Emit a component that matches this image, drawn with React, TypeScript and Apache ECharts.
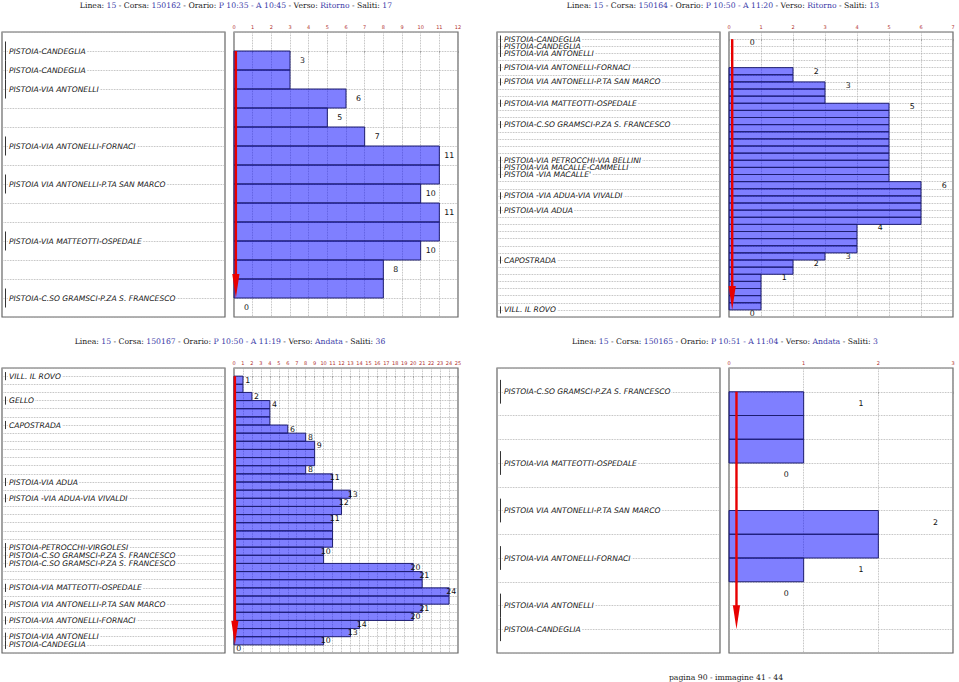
import React, { useEffect, useRef } from 'react';
import * as echarts from 'echarts';

// ---------- DATA ----------
const titleKeys = ['Linea:', 'Corsa:', 'Orario:', 'Verso:', 'Saliti:'];

const title1 = ['15', '150162', 'P 10:35 - A 10:45', 'Ritorno', '17'];
const stops1 = [
  'PISTOIA-CANDEGLIA', 'PISTOIA-CANDEGLIA', 'PISTOIA-VIA ANTONELLI', '', '',
  'PISTOIA-VIA ANTONELLI-FORNACI', '', 'PISTOIA VIA ANTONELLI-P.TA SAN MARCO', '', '',
  'PISTOIA-VIA MATTEOTTI-OSPEDALE', '', '', 'PISTOIA-C.SO GRAMSCI-P.ZA S. FRANCESCO',
];
const load1 = [3, 3, 6, 5, 7, 11, 11, 10, 11, 11, 10, 8, 8];
const axisMax1 = 12;

const title2 = ['15', '150164', 'P 10:50 - A 11:20', 'Ritorno', '13'];
const stops2 = [
  'PISTOIA-CANDEGLIA', 'PISTOIA-CANDEGLIA', 'PISTOIA-VIA ANTONELLI', '', 'PISTOIA-VIA ANTONELLI-FORNACI',
  '', 'PISTOIA VIA ANTONELLI-P.TA SAN MARCO', '', '', 'PISTOIA-VIA MATTEOTTI-OSPEDALE',
  '', '', 'PISTOIA-C.SO GRAMSCI-P.ZA S. FRANCESCO', '', '',
  '', '', 'PISTOIA-VIA PETROCCHI-VIA BELLINI', 'PISTOIA-VIA MACALLE-CAMMELLI', "PISTOIA -VIA MACALLE'",
  '', '', 'PISTOIA -VIA ADUA-VIA VIVALDI', '', 'PISTOIA-VIA ADUA',
  '', '', '', '', '',
  '', 'CAPOSTRADA', '', '', '',
  '', '', '', 'VILL. IL ROVO',
];
const load2 = [
  0, 0, 0, 0, 2, 2, 3, 3, 3, 5,
  5, 5, 5, 5, 5, 5, 5, 5, 5, 5,
  6, 6, 6, 6, 6, 6, 4, 4, 4, 4,
  3, 2, 2, 1, 1, 1, 1, 1,
];
const axisMax2 = 7;

const title3 = ['15', '150167', 'P 10:50 - A 11:19', 'Andata', '36'];
const stops3 = [
  'VILL. IL ROVO', '', '', 'GELLO', '', '', 'CAPOSTRADA', '', '', '',
  '', '', '', 'PISTOIA-VIA ADUA', '', 'PISTOIA -VIA ADUA-VIA VIVALDI', '', '', '', '',
  '', 'PISTOIA-PETROCCHI-VIRGOLESI', 'PISTOIA-C.SO GRAMSCI-P.ZA S. FRANCESCO', 'PISTOIA-C.SO GRAMSCI-P.ZA S. FRANCESCO', '', '',
  'PISTOIA-VIA MATTEOTTI-OSPEDALE', '', 'PISTOIA VIA ANTONELLI-P.TA SAN MARCO', '', 'PISTOIA-VIA ANTONELLI-FORNACI',
  '', 'PISTOIA-VIA ANTONELLI', 'PISTOIA-CANDEGLIA',
];
const load3 = [
  1, 1, 2, 4, 4, 4, 6, 8, 9, 9,
  9, 8, 11, 11, 13, 12, 12, 11, 11, 11,
  11, 10, 10, 20, 21, 21, 24, 24, 21, 20,
  14, 13, 10,
];
const axisMax3 = 25;

const title4 = ['15', '150165', 'P 10:51 - A 11:04', 'Andata', '3'];
const stops4 = [
  'PISTOIA-C.SO GRAMSCI-P.ZA S. FRANCESCO', '', '', 'PISTOIA-VIA MATTEOTTI-OSPEDALE', '',
  'PISTOIA VIA ANTONELLI-P.TA SAN MARCO', '', 'PISTOIA-VIA ANTONELLI-FORNACI', '',
  'PISTOIA-VIA ANTONELLI', 'PISTOIA-CANDEGLIA',
];
const load4 = [1, 1, 1, 0, 0, 2, 2, 1, 0, 0];
const axisMax4 = 3;

const footerText = 'pagina 90 - immagine 41 - 44';

// ---------- LAYOUT ----------
const panels = [
  { title: title1, stops: stops1, load: load1, max: axisMax1 },
  { title: title2, stops: stops2, load: load2, max: axisMax2 },
  { title: title3, stops: stops3, load: load3, max: axisMax3 },
  { title: title4, stops: stops4, load: load4, max: axisMax4 },
];
const layouts = [
  { lx: 2, rx: 234, top: 32, tx: 236, ty: 5 },
  { lx: 497, rx: 729, top: 32, tx: 723, ty: 5 },
  { lx: 2, rx: 234, top: 368, tx: 230, ty: 341 },
  { lx: 497, rx: 729, top: 368, tx: 725, ty: 341 },
];
const LW = 223;
const RW = 224;
const GH = 285;

const dotted = { type: 'dotted' as const, color: '#a8a8a8', width: 0.8 };
const serif = '"DejaVu Serif", "Liberation Serif", serif';
const sans = '"DejaVu Sans", sans-serif';
const titleSize = 7.7;

function buildOption() {
  const grid: any[] = [];
  const xAxis: any[] = [];
  const yAxis: any[] = [];
  const series: any[] = [];
  const graphic: any[] = [];

  panels.forEach((p, k) => {
    const L = layouts[k];
    const n = p.stops.length;
    const gL = 2 * k;
    const gR = 2 * k + 1;
    grid.push({ left: L.lx, top: L.top, width: LW, height: GH, show: true, borderColor: '#666', borderWidth: 1.2, backgroundColor: '#fff' });
    grid.push({ left: L.rx, top: L.top, width: RW, height: GH, show: true, borderColor: '#666', borderWidth: 1.2, backgroundColor: '#fff' });
    xAxis.push({ gridIndex: gL, type: 'value', min: 0, max: 1, show: false });
    xAxis.push({
      gridIndex: gR, type: 'value', min: 0, max: p.max, interval: 1, position: 'top',
      axisLine: { show: false },
      axisTick: { show: true, inside: true, length: 2, lineStyle: { color: '#888', width: 0.6 } },
      axisLabel: { fontSize: 5, color: '#b03030', margin: 3, fontFamily: sans },
      splitLine: { show: true, lineStyle: dotted },
    });
    const yBase = {
      type: 'value', inverse: true, min: -1, max: n, interval: 1,
      axisLine: { show: false }, axisTick: { show: false }, axisLabel: { show: false },
      splitLine: { show: true, lineStyle: dotted },
    };
    yAxis.push({ ...yBase, gridIndex: gL });
    yAxis.push({ ...yBase, gridIndex: gR });

    // stop names
    const named = p.stops.map((s, i) => ({ s, i })).filter((o) => o.s);
    series.push({
      type: 'custom', xAxisIndex: gL, yAxisIndex: gL, silent: true, z: 5, clip: false,
      data: named.map((o) => [0, o.i]),
      renderItem: (params: any, api: any) => {
        const o = named[params.dataIndex];
        const pt = api.coord([0, api.value(1)]);
        const h = api.size([0, 1])[1];
        return {
          type: 'group',
          children: [
            {
              type: 'text',
              style: {
                text: o.s, x: pt[0] + 6, y: pt[1], font: `italic 7.6px ${sans}`, fill: '#151515',
                align: 'left', verticalAlign: 'middle', backgroundColor: '#fff', padding: [0, 1],
              },
            },
            {
              type: 'line',
              shape: { x1: pt[0] + 3.5, y1: pt[1] - h / 2, x2: pt[0] + 3.5, y2: pt[1] + h / 2 },
              style: { stroke: '#333', lineWidth: 1 },
            },
          ],
        };
      },
    });

    // load bars
    series.push({
      type: 'custom', xAxisIndex: gR, yAxisIndex: gR, silent: true, z: 3,
      data: p.load.map((v, i) => [v, i]),
      renderItem: (params: any, api: any) => {
        const v = api.value(0);
        const i = api.value(1);
        if (!v) return { type: 'group', children: [] };
        const a = api.coord([0, i]);
        const b = api.coord([v, i + 1]);
        return {
          type: 'rect',
          shape: { x: a[0], y: a[1], width: b[0] - a[0], height: b[1] - a[1] },
          style: { fill: 'rgba(0,0,255,0.5)', stroke: '#1e1e70', lineWidth: 1 },
        };
      },
    });

    // arrow
    series.push({
      type: 'custom', xAxisIndex: gR, yAxisIndex: gR, silent: true, z: 6,
      data: [[0.1, 0, n - 1]],
      renderItem: (params: any, api: any) => {
        const t = api.coord([api.value(0), api.value(1)]);
        const b = api.coord([api.value(0), api.value(2)]);
        const hh = 24;
        const hw = 3.6;
        return {
          type: 'group',
          children: [
            { type: 'line', shape: { x1: t[0], y1: t[1], x2: b[0], y2: b[1] - hh + 2 }, style: { stroke: '#e80000', lineWidth: 2.4 } },
            { type: 'polygon', shape: { points: [[b[0] - hw, b[1] - hh], [b[0] + hw, b[1] - hh], [b[0], b[1]]] }, style: { fill: '#e80000' } },
          ],
        };
      },
    });

    // value labels (where the load changes)
    const full = [...p.load, 0];
    const lab = full.map((v, i) => ({ v, i })).filter((o) => o.i === 0 || o.v !== full[o.i - 1]);
    series.push({
      type: 'custom', xAxisIndex: gR, yAxisIndex: gR, silent: true, z: 7, clip: false,
      data: lab.map((o) => [o.v, o.i]),
      renderItem: (params: any, api: any) => {
        const v = api.value(0);
        const i = api.value(1);
        const pt = api.coord([v + 0.8, i + 0.5]);
        return {
          type: 'text',
          style: { text: String(v), x: pt[0], y: pt[1], font: `7.8px ${sans}`, fill: '#111', align: 'right', verticalAlign: 'middle' },
        };
      },
    });

    // title
    const parts: string[] = [];
    titleKeys.forEach((key, j) => {
      parts.push(`{k|${j === 0 ? '' : ' - '}${key} }{v|${p.title[j]}}`);
    });
    graphic.push({
      type: 'text', x: L.tx, y: L.ty, silent: true,
      style: {
        text: parts.join(''), align: 'center', verticalAlign: 'middle', font: `${titleSize}px ${serif}`,
        rich: {
          k: { fill: '#222', fontSize: titleSize, fontFamily: serif },
          v: { fill: '#3c3ca8', fontSize: titleSize, fontFamily: serif },
        },
      },
    });
  });

  graphic.push({
    type: 'text', x: 726, y: 677, silent: true,
    style: { text: footerText, align: 'center', verticalAlign: 'middle', font: `${titleSize}px ${serif}`, fill: '#222' },
  });

  return { animation: false, backgroundColor: '#fff', grid, xAxis, yAxis, series, graphic };
}

export default function App() {
  const ref = useRef<HTMLDivElement>(null);
  useEffect(() => {
    if (!ref.current) return;
    const chart = echarts.init(ref.current, undefined, { renderer: 'svg' });
    chart.setOption(buildOption() as any);
    return () => chart.dispose();
  }, []);
  return <div ref={ref} style={{ position: 'fixed', left: 0, top: 0, width: 959, height: 682, background: '#fff' }} />;
}
